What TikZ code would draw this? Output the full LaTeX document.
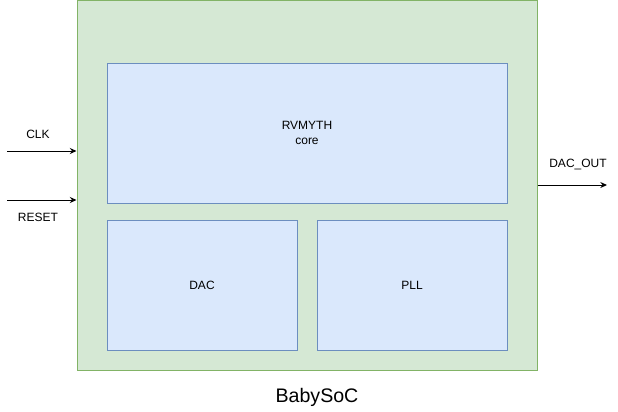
\documentclass[tikz,border=0pt]{standalone}
\usepackage{fontspec}
\setmainfont{Liberation Sans}
\usepackage{xcolor}
\usepackage{tikz}
\usetikzlibrary{arrows.meta}
\definecolor{socfill}{HTML}{D5E8D4}
\definecolor{socline}{HTML}{82B366}
\definecolor{blkfill}{HTML}{DAE8FC}
\definecolor{blkline}{HTML}{6C8EBF}

\begin{document}
\begin{tikzpicture}[>={Stealth[length=5pt, width=4.5pt]}, x=0.75pt, y=-0.75pt,
    soc/.style={draw=socline, fill=socfill, line width=0.75pt, inner sep=0pt},
    blk/.style={draw=blkline, fill=blkfill, line width=0.75pt, inner sep=0pt,
        align=center, font=\fontsize{9}{11.25}\selectfont},
    lbl/.style={font=\fontsize{9}{11.25}\selectfont}]
                \useasboundingbox (0,0) rectangle (618,411);
                % BabySoC
                \node[soc, minimum width=345pt, minimum height=277.5pt] (soc) at (307,185) {};
                \node[font=\fontsize{14.7}{17}\selectfont] (socname) at (317,397) {BabySoC};
                % Bloques
                \node[blk, minimum width=300pt, minimum height=105pt] (core) at (307,133) {RVMYTH\\core};
                \node[blk, minimum width=142.5pt, minimum height=97.5pt] (dac) at (202,285) {DAC};
                \node[blk, minimum width=142.5pt, minimum height=97.5pt] (pll) at (412,285) {PLL};
                % Entradas
                \coordinate (clkin) at (7,151);
                \coordinate (resetin) at (7,200);
                \draw[->, line width=0.75pt] (clkin) -- (clkin -| soc.west);
                \draw[->, line width=0.75pt] (resetin) -- (resetin -| soc.west);
                \node[lbl] (clk) at (38,134) {CLK};
                \node[lbl] (reset) at (38,217) {RESET};
                % Salida
                \coordinate (dacout) at (607,185);
                \draw[->, line width=0.75pt] (dacout -| soc.east) -- (dacout);
                \node[lbl] (out) at (578,164) {DAC\_OUT};
            \end{tikzpicture}
\end{document}
